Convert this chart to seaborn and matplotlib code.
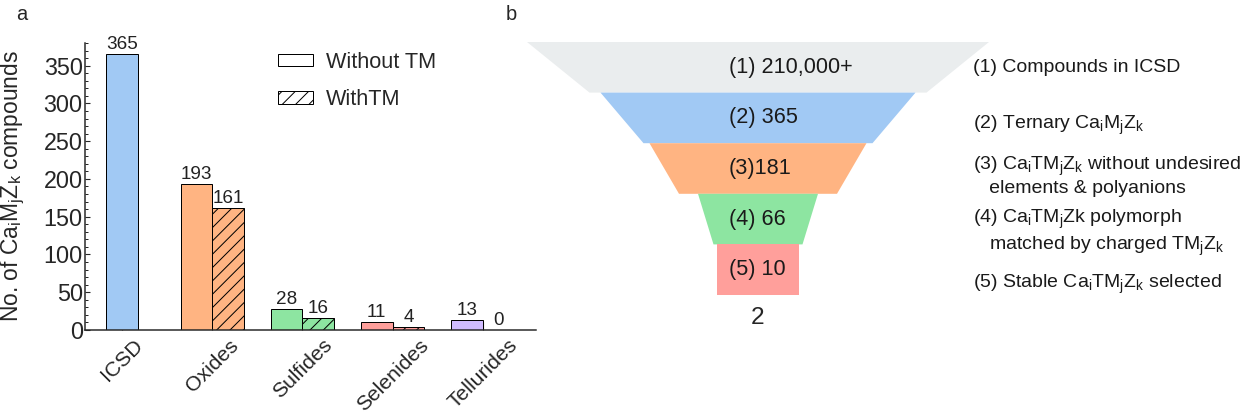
import pandas as pd
import matplotlib
matplotlib.use("Agg")
import matplotlib.pyplot as plt
import matplotlib.patches as mpatches
from matplotlib.ticker import MultipleLocator
import seaborn as sns

# ---- panel a data ----
categories = ["ICSD", "Oxides", "Sulfides", "Selenides", "Tellurides"]
icsd_count = [365]
groups = ["Oxides", "Sulfides", "Selenides", "Tellurides"]
without_tm = [193, 28, 11, 13]
with_tm = [161, 16, 4, 0]
legend_labels = ["Without TM", "WithTM"]
bar_colors = ["#a1c9f4", "#ffb482", "#8de5a1", "#ff9f9b", "#d0bbff"]

# ---- panel b data ----
funnel_labels = ["(1) 210,000+", "(2) 365", "(3)181", "(4) 66", "(5) 10"]
funnel_steps = [
    "(1) Compounds in ICSD",
    "(2) Ternary Ca$_i$M$_j$Z$_k$",
    "(3) Ca$_i$TM$_j$Z$_k$ without undesired\n   elements & polyanions",
    "(4) Ca$_i$TM$_j$Zk polymorph\n   matched by charged TM$_j$Z$_k$",
    "(5) Stable Ca$_i$TM$_j$Z$_k$ selected",
]
funnel_colors = ["#eaedee", "#a1c9f4", "#ffb482", "#8de5a1", "#ff9f9b"]

# funnel drawing geometry (pixels)
top_w = [462, 315, 217, 120, 82]
bot_w = [337, 229, 158, 89, 82]
step_y = [37, 95, 146, 203, 254]

sns.set_style("ticks")
plt.rcParams["font.family"] = ["Liberation Sans", "DejaVu Sans"]
plt.rcParams["mathtext.default"] = "regular"
plt.rcParams["hatch.linewidth"] = 0.9

DPI = 80
fig = plt.figure(figsize=(1242 / DPI, 417 / DPI), dpi=DPI)

# ================= panel a =================
ax = fig.add_axes([85 / 1242, 1 - 330 / 417, 451 / 1242, 287 / 417])

sns.barplot(x=["ICSD"], y=icsd_count, order=categories, width=0.35,
            color=bar_colors[0], saturation=1, edgecolor="black",
            linewidth=0.9, errorbar=None, ax=ax)

df = pd.DataFrame({
    "category": groups * 2,
    "count": without_tm + with_tm,
    "type": [legend_labels[0]] * len(groups) + [legend_labels[1]] * len(groups),
})
sns.barplot(data=df, x="category", y="count", hue="type", order=categories,
            hue_order=legend_labels, width=0.7, palette=["white", "white"],
            saturation=1, edgecolor="black", linewidth=0.9, errorbar=None,
            legend=False, ax=ax)

for k, cont in enumerate(ax.containers):
    for bar in cont:
        idx = int(round(bar.get_x() + bar.get_width() / 2))
        bar.set_facecolor(bar_colors[idx])
        if k == 2:
            bar.set_hatch("//")
    ax.bar_label(cont, padding=1, fontsize=17, color="#222222")

ax.set_xlim(-0.41, 4.59)
ax.set_ylim(0, 380)
ax.yaxis.set_major_locator(MultipleLocator(50))
ax.yaxis.set_minor_locator(MultipleLocator(10))
ax.tick_params(axis="y", which="major", direction="in", length=4.5, width=1,
               labelsize=21, pad=2)
ax.tick_params(axis="y", which="minor", direction="in", length=2.7, width=0.9)
ax.tick_params(axis="x", direction="in", length=7, width=1, labelsize=19, pad=5)
plt.setp(ax.get_xticklabels(), rotation=45, ha="center")
for s in ["left", "bottom"]:
    ax.spines[s].set_linewidth(1.35)
sns.despine(ax=ax)

ax.set_xlabel("")
ax.set_ylabel("No. of Ca$_i$M$_j$Z$_k$ compounds", fontsize=20.5)
ax.yaxis.set_label_coords(-0.128, 0.5)

handles = [
    mpatches.Patch(facecolor="white", edgecolor="black", linewidth=0.9),
    mpatches.Patch(facecolor="white", edgecolor="black", linewidth=0.9, hatch="//"),
]
fig.legend(handles, legend_labels, loc="upper left",
           bbox_to_anchor=(278 / 1242, 1 - 52 / 417), frameon=False,
           fontsize=19.5, handlelength=1.6, handleheight=0.5,
           handletextpad=0.6, labelspacing=0.75, borderpad=0, borderaxespad=0)

# ================= panel b =================
axb = fig.add_axes([500 / 1242, 1 - 330 / 417, 742 / 1242, 300 / 417])
axb.set_xlim(-258, 484)
axb.set_ylim(300, 0)
axb.axis("off")

level_h = 50.6
y0 = 12
for i, (lab, col) in enumerate(zip(funnel_labels, funnel_colors)):
    yt = y0 + i * level_h
    yb = yt + level_h
    xs = [-top_w[i] / 2, top_w[i] / 2, bot_w[i] / 2, -bot_w[i] / 2]
    ys = [yt, yt, yb, yb]
    axb.fill(xs, ys, color=col, lw=0)
    axb.text(-29, yt + level_h / 2, lab, fontsize=19.5, ha="left", va="center",
             color="#1a1a1a")

for txt, y in zip(funnel_steps, step_y):
    axb.text(215, y, txt, fontsize=17.5, ha="left", va="center", color="#1a1a1a")

axb.text(0, 288, "2", fontsize=22, ha="center", va="center")

fig.text(22 / 1242, 1 - 15 / 417, "a", fontsize=18, ha="center", va="center")
fig.text(511 / 1242, 1 - 15 / 417, "b", fontsize=18, ha="center", va="center")

fig.savefig("out.png", dpi=DPI)
